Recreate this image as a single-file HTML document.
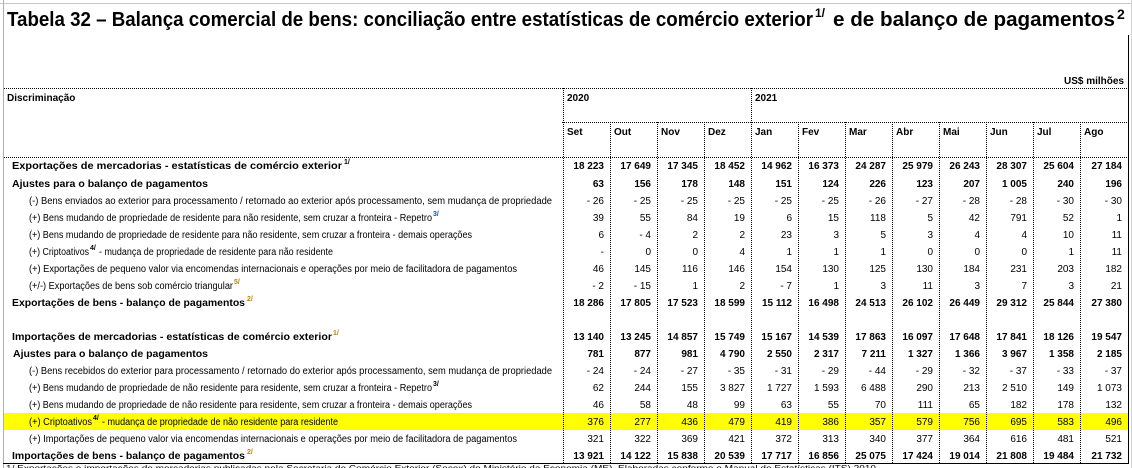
<!DOCTYPE html>
<html><head><meta charset="utf-8"><style>
html,body{margin:0;padding:0;background:#fff;}
svg{display:block;}
.t{font-family:"Liberation Sans",sans-serif;font-size:10px;fill:#000;}
.b{font-weight:bold;}
.n{text-anchor:end;}
.s{font-size:7px;font-weight:bold;}
</style></head><body>
<svg width="1132" height="468" viewBox="0 0 1132 468" xmlns="http://www.w3.org/2000/svg">
<line x1="0" y1="3.5" x2="1132" y2="3.5" stroke="#c8c8c8"/>
<line x1="3.5" y1="0" x2="3.5" y2="468" stroke="#b0b0b0"/>
<line x1="1131.5" y1="0" x2="1131.5" y2="468" stroke="#d0d0d0"/>
<text x="7" y="26" font-family="Liberation Sans, sans-serif" font-weight="bold" font-size="20" textLength="806" lengthAdjust="spacingAndGlyphs">Tabela 32 – Balança comercial de bens: conciliação entre estatísticas de comércio exterior</text>
<text x="815" y="17" font-family="Liberation Sans, sans-serif" font-weight="bold" font-size="12">1/</text>
<text x="833" y="26" font-family="Liberation Sans, sans-serif" font-weight="bold" font-size="20" textLength="282" lengthAdjust="spacingAndGlyphs">e de balanço de pagamentos</text>
<text x="1117" y="19" font-family="Liberation Sans, sans-serif" font-weight="bold" font-size="14">2</text>
<text class="t b n" x="1124" y="84">US$ milhões</text>
<rect x="4" y="413" width="1124" height="17" fill="#ffff00"/>
<g stroke="#000" stroke-dasharray="1,1" stroke-width="1">
<line x1="4" y1="88.5" x2="1128" y2="88.5"/>
<line x1="562" y1="122.5" x2="1128" y2="122.5"/>
<line x1="4" y1="157.5" x2="1128" y2="157.5"/>
<line x1="563.5" y1="88" x2="563.5" y2="463"/>
<line x1="751.5" y1="88" x2="751.5" y2="463"/>
<line x1="610.5" y1="122" x2="610.5" y2="463"/>
<line x1="657.5" y1="122" x2="657.5" y2="463"/>
<line x1="704.5" y1="122" x2="704.5" y2="463"/>
<line x1="798.5" y1="122" x2="798.5" y2="463"/>
<line x1="845.5" y1="122" x2="845.5" y2="463"/>
<line x1="892.5" y1="122" x2="892.5" y2="463"/>
<line x1="939.5" y1="122" x2="939.5" y2="463"/>
<line x1="986.5" y1="122" x2="986.5" y2="463"/>
<line x1="1033.5" y1="122" x2="1033.5" y2="463"/>
<line x1="1080.5" y1="122" x2="1080.5" y2="463"/>
</g>
<line x1="1128.5" y1="35" x2="1128.5" y2="464" stroke="#000"/>
<line x1="3" y1="463.5" x2="1129" y2="463.5" stroke="#000"/>
<text x="6" y="471" font-family="Liberation Sans, sans-serif" font-size="8" textLength="870" lengthAdjust="spacingAndGlyphs">1/ Exportações e importações de mercadorias publicadas pela Secretaria de Comércio Exterior (Secex) do Ministério da Economia (ME). Elaboradas conforme o Manual de Estatísticas (ITS) 2010</text>
<text class="t b" x="7" y="101">Discriminação</text>
<text class="t b" x="567" y="101">2020</text>
<text class="t b" x="755" y="101">2021</text>
<g class="t b">
<text x="567" y="135">Set</text><text x="614" y="135">Out</text><text x="661" y="135">Nov</text><text x="708" y="135">Dez</text>
<text x="755" y="135">Jan</text><text x="802" y="135">Fev</text><text x="849" y="135">Mar</text><text x="896" y="135">Abr</text>
<text x="943" y="135">Mai</text><text x="990" y="135">Jun</text><text x="1037" y="135">Jul</text><text x="1084" y="135">Ago</text>
</g>
<g class="t">
<text class="b" x="12" y="169" textLength="330" lengthAdjust="spacingAndGlyphs">Exportações de mercadorias - estatísticas de comércio exterior</text><text class="s" x="344" y="164">1/</text>
<text class="b" x="12" y="187" textLength="196" lengthAdjust="spacingAndGlyphs">Ajustes para o balanço de pagamentos</text>
<text x="29" y="204" textLength="523" lengthAdjust="spacingAndGlyphs">(-) Bens enviados ao exterior para processamento / retornado ao exterior após processamento, sem mudança de propriedade</text>
<text x="29" y="221" textLength="403" lengthAdjust="spacingAndGlyphs">(+) Bens mudando de propriedade de residente para não residente, sem cruzar a fronteira - Repetro</text><text class="s" x="433" y="216" fill="#1a4f9c">3/</text>
<text x="29" y="238" textLength="443" lengthAdjust="spacingAndGlyphs">(+) Bens mudando de propriedade de residente para não residente, sem cruzar a fronteira - demais operações</text>
<text x="29" y="255" textLength="60" lengthAdjust="spacingAndGlyphs">(+) Criptoativos</text><text class="s" x="90" y="250">4/</text><text x="99" y="255" textLength="234" lengthAdjust="spacingAndGlyphs"> - mudança de propriedade de residente para não residente</text>
<text x="29" y="272" textLength="488" lengthAdjust="spacingAndGlyphs">(+) Exportações de pequeno valor via encomendas internacionais e operações por meio de facilitadora de pagamentos</text>
<text x="29" y="289" textLength="204" lengthAdjust="spacingAndGlyphs">(+/-) Exportações de bens sob comércio triangular</text><text class="s" x="234" y="284" fill="#b8860b">5/</text>
<text class="b" x="12" y="306" textLength="233" lengthAdjust="spacingAndGlyphs">Exportações de bens - balanço de pagamentos</text><text class="s" x="247" y="301" fill="#b8860b">2/</text>
<text class="b" x="12" y="340" textLength="320" lengthAdjust="spacingAndGlyphs">Importações de mercadorias - estatísticas de comércio exterior</text><text class="s" x="333" y="335" fill="#b8860b">1/</text>
<text class="b" x="13" y="357" textLength="195" lengthAdjust="spacingAndGlyphs">Ajustes para o balanço de pagamentos</text>
<text x="29" y="374" textLength="523" lengthAdjust="spacingAndGlyphs">(-) Bens recebidos do exterior para processamento / retornado do exterior após processamento, sem mudança de propriedade</text>
<text x="29" y="391" textLength="403" lengthAdjust="spacingAndGlyphs">(+) Bens mudando de propriedade de não residente para residente, sem cruzar a fronteira - Repetro</text><text class="s" x="433" y="386">3/</text>
<text x="29" y="408" textLength="443" lengthAdjust="spacingAndGlyphs">(+) Bens mudando de propriedade de não residente para residente, sem cruzar a fronteira - demais operações</text>
<text x="29" y="425" textLength="63" lengthAdjust="spacingAndGlyphs">(+) Criptoativos</text><text class="s" x="93" y="420">4/</text><text x="102" y="425" textLength="236" lengthAdjust="spacingAndGlyphs"> - mudança de propriedade de não residente para residente</text>
<text x="29" y="442" textLength="488" lengthAdjust="spacingAndGlyphs">(+) Importações de pequeno valor via encomendas internacionais e operações por meio de facilitadora de pagamentos</text>
<text class="b" x="12" y="459" textLength="233" lengthAdjust="spacingAndGlyphs">Importações de bens - balanço de pagamentos</text><text class="s" x="247" y="454" fill="#b8860b">2/</text>
</g>
<g class="t n" id="nums"></g>
</svg>
<script>
var rows=[
[169,1,"18 223,17 649,17 345,18 452,14 962,16 373,24 287,25 979,26 243,28 307,25 604,27 184"],
[187,1,"63,156,178,148,151,124,226,123,207,1 005,240,196"],
[204,0,"- 26,- 25,- 25,- 25,- 25,- 25,- 26,- 27,- 28,- 28,- 30,- 30"],
[221,0,"39,55,84,19,6,15,118,5,42,791,52,1"],
[238,0,"6,- 4,2,2,23,3,5,3,4,4,10,11"],
[255,0,"-,0,0,4,1,1,1,0,0,0,1,11"],
[272,0,"46,145,116,146,154,130,125,130,184,231,203,182"],
[289,0,"- 2,- 15,1,2,- 7,1,3,11,3,7,3,21"],
[306,1,"18 286,17 805,17 523,18 599,15 112,16 498,24 513,26 102,26 449,29 312,25 844,27 380"],
[340,1,"13 140,13 245,14 857,15 749,15 167,14 539,17 863,16 097,17 648,17 841,18 126,19 547"],
[357,1,"781,877,981,4 790,2 550,2 317,7 211,1 327,1 366,3 967,1 358,2 185"],
[374,0,"- 24,- 24,- 27,- 35,- 31,- 29,- 44,- 29,- 32,- 37,- 33,- 37"],
[391,0,"62,244,155,3 827,1 727,1 593,6 488,290,213,2 510,149,1 073"],
[408,0,"46,58,48,99,63,55,70,111,65,182,178,132"],
[425,0,"376,277,436,479,419,386,357,579,756,695,583,496"],
[442,0,"321,322,369,421,372,313,340,377,364,616,481,521"],
[459,1,"13 921,14 122,15 838,20 539,17 717,16 856,25 075,17 424,19 014,21 808,19 484,21 732"]];
var ends=[604,651,698,745,792,839,886,933,980,1027,1074,1122];
var g=document.getElementById('nums'),ns="http://www.w3.org/2000/svg";
rows.forEach(function(r){r[2].split(',').forEach(function(v,i){var t=document.createElementNS(ns,'text');t.setAttribute('x',ends[i]);t.setAttribute('y',r[0]);if(r[1])t.setAttribute('font-weight','bold');t.textContent=v;g.appendChild(t);});});
</script>
</body></html>
